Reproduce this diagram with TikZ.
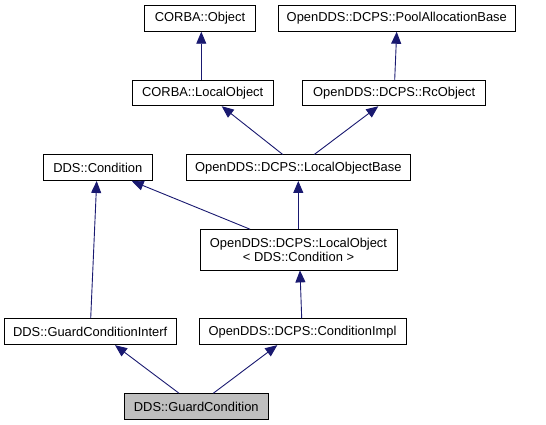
\documentclass[tikz,border=0pt]{standalone}
\usepackage{fontspec}
\setmainfont{Liberation Sans}
\usepackage{tikz}
\usetikzlibrary{arrows.meta}
\definecolor{edgeblue}{HTML}{191970}
\definecolor{hilite}{HTML}{BFBFBF}
\tikzstyle{classbox}=[draw=black,fill=white,line width=0.9pt,
                      inner sep=0pt,minimum height=25.6pt,align=center,
                      font=\fontsize{12.9}{14.5}\selectfont]
\tikzstyle{inherit}=[draw=edgeblue,line width=0.9pt,
                     -{Triangle[length=12pt,width=10pt]},edgeblue]

\begin{document}
\begin{tikzpicture}[x=1pt,y=-1pt]
    \useasboundingbox (0,0) rectangle (546,425);
    % top row
    \node (obj) at (200,18.5) [classbox,minimum width=111.4pt]{CORBA::Object};
    \node (pool) at (396.8,18.5) [classbox,minimum width=236.3pt]{OpenDDS::DCPS::PoolAllocationBase};
    % second row
    \node (lobj) at (202.7,93) [classbox,minimum width=140.7pt]{CORBA::LocalObject};
    \node (rc) at (394.2,93) [classbox,minimum width=183pt]{OpenDDS::DCPS::RcObject};
    % third row
    \node (cond) at (97.8,167.7) [classbox,minimum width=109.7pt]{DDS::Condition};
    \node (lobase) at (298.3,167.7) [classbox,minimum width=224.7pt]{OpenDDS::DCPS::LocalObjectBase};
    \node (lobjc) at (298.5,249.8) [classbox,minimum width=197pt,minimum height=40.3pt]{OpenDDS::DCPS::LocalObject\\\textless{} DDS::Condition \textgreater{}};
    % bottom rows
    \node (gci) at (90.2,331.7) [classbox,minimum width=171.7pt,minimum height=26pt]{DDS::GuardConditionInterf};
    \node (cimpl) at (302.5,331.7) [classbox,minimum width=207pt,minimum height=26pt]{OpenDDS::DCPS::ConditionImpl};
    \node (gc) at (196.3,406.5) [classbox,fill=hilite,minimum width=143.3pt]{DDS::GuardCondition};

    \draw[inherit] ([xshift=1.3pt]obj.south |- lobj.north) -- ([xshift=1.3pt]obj.south);
    \draw[inherit] ([xshift=0.5pt]rc.north) -- ([xshift=-0.1pt]pool.south);
    \draw[inherit] ([xshift=-15.6pt]lobase.north) -- ([xshift=19pt]lobj.south);
    \draw[inherit] ([xshift=16pt]lobase.north) -- ([xshift=-15.9pt]rc.south);
    \draw[inherit] ([xshift=-7.1pt]cond.south |- gci.north) -- ([xshift=-1.1pt]cond.south);
    \draw[inherit] ([xshift=-48.5pt]lobjc.north) -- ([xshift=33.9pt]cond.south);
    \draw[inherit] (lobjc.north -| lobase.south) -- (lobase.south);
    \draw[inherit] ([xshift=-0.8pt]cimpl.north) -- ([xshift=1.5pt]lobjc.south);
    \draw[inherit] ([xshift=-17.3pt]gc.north) -- ([xshift=24.8pt]gci.south);
    \draw[inherit] ([xshift=17pt]gc.north) -- ([xshift=-25.2pt]cimpl.south);
\end{tikzpicture}
\end{document}
